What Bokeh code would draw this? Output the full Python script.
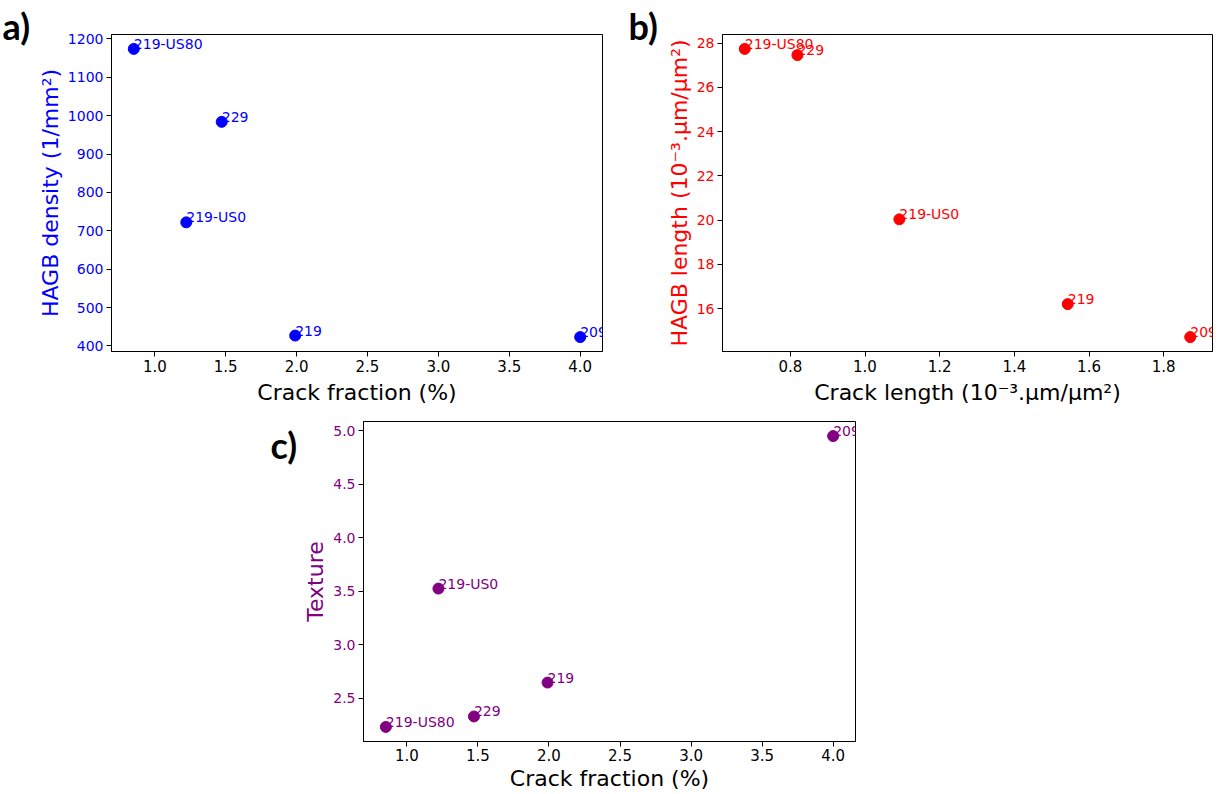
from bokeh.plotting import figure
from bokeh.layouts import column, row, Spacer
from bokeh.models import (ColumnDataSource, LabelSet, Range1d,
                          SingleIntervalTicker, NumeralTickFormatter)
from bokeh.core.properties import value
from bokeh.embed import file_html
from bokeh.resources import INLINE

# ---- data ----
names = ["219-US80", "219-US0", "229", "219", "209"]
crack_fraction = [0.852, 1.222, 1.472, 1.990, 4.000]
hagb_density = [1174, 722, 984, 427, 423]
crack_length = [0.678, 1.092, 0.819, 1.543, 1.871]
hagb_length = [27.74, 20.04, 27.46, 16.21, 14.72]
texture = [2.232, 3.525, 2.330, 2.647, 4.950]

FONT = "DejaVu Sans"


def padded(vals, frac=0.05):
    lo, hi = min(vals), max(vals)
    m = (hi - lo) * frac
    return Range1d(lo - m, hi + m)


def panel(xv, yv, color, xlabel, ylabel, xint, yint, xfmt, yfmt,
          width, height, bl, br, bt, bb, xstand=(3, 5)):
    p = figure(width=width, height=height, output_backend="svg",
               toolbar_location=None, min_border_left=bl, min_border_right=br,
               min_border_top=bt, min_border_bottom=bb,
               x_range=padded(xv), y_range=padded(yv))
    p.background_fill_color = "white"
    p.border_fill_color = "white"
    p.grid.visible = False
    p.outline_line_color = "black"
    p.outline_line_width = 1
    src = ColumnDataSource(dict(x=xv, y=yv, name=names))
    p.scatter("x", "y", source=src, size=11, color=color)
    p.add_layout(LabelSet(x="x", y="y", text="name", source=src,
                          text_font=value(FONT), text_font_size="14px",
                          text_color=color, text_align="left",
                          text_baseline="alphabetic"))
    p.xaxis.ticker = SingleIntervalTicker(interval=xint)
    p.yaxis.ticker = SingleIntervalTicker(interval=yint)
    p.xaxis.formatter = NumeralTickFormatter(format=xfmt)
    p.yaxis.formatter = NumeralTickFormatter(format=yfmt)
    for ax in (p.xaxis[0], p.yaxis[0]):
        ax.minor_tick_line_color = None
        ax.major_tick_in = 0
        ax.major_tick_out = 5
        ax.major_tick_line_color = "black"
        ax.axis_line_color = "black"
        ax.major_label_text_font = FONT
        ax.axis_label_text_font = FONT
        ax.axis_label_text_font_size = "22px"
        ax.axis_label_text_font_style = "normal"
    p.xaxis.major_label_text_font_size = "15px"
    p.yaxis.major_label_text_font_size = "14px"
    p.yaxis.major_label_standoff = 3
    p.yaxis.axis_label_standoff = 2
    p.xaxis.major_label_standoff = xstand[0]
    p.xaxis.axis_label_standoff = xstand[1]
    p.xaxis.axis_label = xlabel
    p.yaxis.axis_label = ylabel
    p.xaxis.major_label_text_color = "black"
    p.xaxis.axis_label_text_color = "black"
    p.yaxis.major_label_text_color = color
    p.yaxis.axis_label_text_color = color
    return p


def tag(text, width, height, offset):
    # a small blank figure whose title carries the panel letter
    t = figure(width=width, height=height, output_backend="svg",
               toolbar_location=None, min_border=0,
               x_axis_type=None, y_axis_type=None,
               x_range=Range1d(0, 1), y_range=Range1d(0, 1))
    t.grid.visible = False
    t.outline_line_color = None
    t.border_fill_color = "white"
    t.background_fill_color = "white"
    t.title.text = text
    t.title.text_font = "Lato"
    t.title.text_font_size = "36px"
    t.title.text_font_style = "bold"
    t.title.text_color = "black"
    t.title.align = "left"
    t.title.offset = offset
    t.title.standoff = 0
    return t


pa = panel(crack_fraction, hagb_density, "blue",
           "Crack fraction (%)", "HAGB density (1/mm²)",
           0.5, 100, "0.0", "0",
           width=594, height=408, bl=77, br=26, bt=34, bb=55)

pb = panel(crack_length, hagb_length, "red",
           "Crack length (10⁻³.μm/μm²)", "HAGB length (10⁻³.μm/μm²)",
           0.2, 2, "0.0", "0",
           width=554, height=408, bl=59, br=5, bt=33, bb=57)

pc = panel(crack_fraction, texture, "purple",
           "Crack fraction (%)", "Texture",
           0.5, 0.5, "0.0", "0.0",
           width=586, height=385, bl=64, br=30, bt=13, bb=52,
           xstand=(2, 2))

ta = tag("a)", 34, 90, 2)
tb = tag("b)", 35, 90, 0)
tc = tag("c)", 29, 90, 0)

layout = column(row(column(Spacer(width=34, height=1), ta), pa,
                    column(Spacer(width=35, height=1), tb), pb),
                row(Spacer(width=270, height=10),
                    column(Spacer(width=29, height=12), tc), pc))

open("out.html", "w").write(file_html(layout, INLINE))
